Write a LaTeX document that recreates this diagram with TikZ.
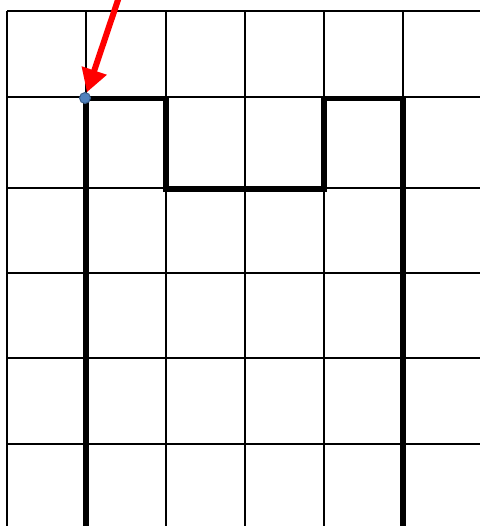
\documentclass[tikz,border=0pt]{standalone}
\usetikzlibrary{arrows.meta}
\definecolor{dotblue}{RGB}{79,129,189}
\definecolor{dotedge}{RGB}{56,93,138}
\begin{document}
\begin{tikzpicture}[x=1pt, y=-1pt,
  gridline/.style={line width=2pt},
  wall/.style={line width=5.6pt},
  pointer/.style={red, line width=6pt, -{Triangle[length=23pt,width=25pt]}}]
\useasboundingbox (0,0) rectangle (480,526);
\clip (0,0) rectangle (480,526);
\foreach \x in {7,86,166,245,324,403}
  \draw[gridline] (\x,11) -- (\x,526);
\foreach \y in {11,97,188,273,358,444}
  \draw[gridline] (7,\y) -- (480,\y);
\coordinate (wl) at (86,526);
\coordinate (c1) at (86,98.5);
\coordinate (c2) at (166,98.5);
\coordinate (c3) at (166,189);
\coordinate (c4) at (324,189);
\coordinate (c5) at (324,98.5);
\coordinate (c6) at (403,98.5);
\coordinate (wr) at (403,526);
\draw[wall] (wl)--(c1)--(c2)--(c3)--(c4)--(c5)--(c6)--(wr);
\node[circle, fill=dotblue, draw=dotedge, line width=1pt, minimum size=11pt, inner sep=0pt] (start) at (85,98) {};
\coordinate (tail) at (120,-6);
\draw[pointer] (tail)--(start);
\end{tikzpicture}
\end{document}
